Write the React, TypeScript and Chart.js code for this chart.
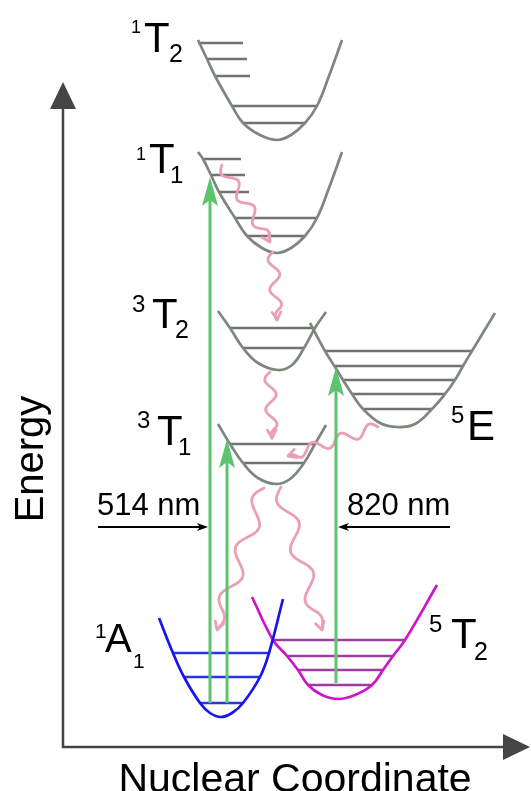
import React, { useEffect, useRef } from "react";
import { Chart, registerables } from "chart.js";
Chart.register(...registerables);

// Coordinates: q = nuclear coordinate, E = energy (origin at the corner of the axes)

// 1T2 state
const T2s_q = [135, 144, 152, 169, 180, 197, 214, 228, 242, 254, 266, 279];
const T2s_E = [707, 688, 671, 641, 624, 612, 607, 612, 624, 641, 671, 707];
const T2s_levE = [704, 688, 671, 641, 624];
const T2s_levL = [135, 144, 152, 169, 180];
const T2s_levR = [180, 184, 187, 254, 242];

// 1T1 state
const T1s_q = [135, 140, 148, 156, 172, 184, 199, 214, 228, 242, 254, 266, 279];
const T1s_E = [595, 588, 572, 555, 529, 511, 499, 494, 499, 511, 529, 559, 595];
const T1s_levE = [588, 572, 555, 529, 511];
const T1s_levL = [140, 148, 156, 172, 184];
const T1s_levR = [178, 182, 186, 254, 242];

// 3T2 state
const T2t_q = [155, 167, 180, 195, 215, 229, 241, 252, 263];
const T2t_E = [436, 419, 399, 384, 377, 382, 399, 419, 435];
const T2t_levE = [419, 399];
const T2t_levL = [167, 180];
const T2t_levR = [252, 241];

// 3T1 state
const T1t_q = [155, 167, 180, 195, 213, 227, 241, 252, 263];
const T1t_E = [323, 303, 284, 269, 263, 268, 284, 303, 322];
const T1t_levE = [303, 284];
const T1t_levL = [167, 180];
const T1t_levR = [252, 241];

// 5E state
const E5_q = [247, 262, 272, 280, 289, 300, 317, 334, 352, 369, 382, 392, 400, 409, 432];
const E5_E = [424, 396, 380, 367, 353, 338, 324, 320, 323, 338, 353, 367, 381, 396, 434];
const E5_levE = [396, 381, 367, 353, 338];
const E5_levL = [262, 272, 280, 289, 300];
const E5_levR = [409, 400, 392, 382, 369];

// 1A1 ground state
const A1_q = [96, 110, 121, 137, 147, 158, 169, 180, 197, 206, 220];
const A1_E = [129, 94, 70, 44, 34, 30, 34, 44, 70, 94, 148];
const A1_levE = [94, 70, 44];
const A1_levL = [110, 121, 137];
const A1_levR = [206, 197, 180];

// 5T2 state
const T5_q = [189, 210, 224, 235, 245, 259, 275, 292, 309, 320, 330, 342, 374];
const T5_E = [150, 107, 91, 77, 62, 52, 48, 52, 62, 77, 91, 107, 162];
const T5_levE = [107, 91, 77, 62];
const T5_levL = [210, 224, 235, 245];
const T5_levR = [342, 330, 320, 309];

// Absorption (green) arrows: position, start energy, end energy
const absQ = [147, 164, 273];
const absFrom = [44, 44, 64];
const absTo = [570, 308, 380];

// Excitation wavelength markers
const laserLabels = ["514 nm", "820 nm"];
const laserFromQ = [35, 387];
const laserToQ = [145, 275];
const laserE = [220, 220];

// Non-radiative relaxation (wavy) paths, as q/E waypoint lists
const relaxQ = [
  [159, 207],
  [210, 214],
  [207, 209],
  [315, 225],
  [201, 175, 154],
  [218, 234, 259],
];
const relaxE = [
  [582, 505],
  [495, 427],
  [375, 309],
  [320, 291],
  [259, 182, 117],
  [260, 202, 117],
];

// Axis extents
const axisQmax = 467;
const axisEmax = 665;

const FONT = '"Liberation Sans", Arial, Helvetica, sans-serif';
const GRAY = "#7d877d";
const GRAY_LEV = "#727272";
const BLUE = "#1515ee";
const BLUE_LEV = "#2a36e6";
const MAG = "#cc14cc";
const MAG_LEV = "#9c3c9c";
const GREEN = "#5cc46c";
const PINK = "#eb9fb4";
const AXIS = "#454545";

const states = [
  { q: T2s_q, E: T2s_E, levE: T2s_levE, levL: T2s_levL, levR: T2s_levR, c: GRAY, lc: GRAY_LEV },
  { q: T1s_q, E: T1s_E, levE: T1s_levE, levL: T1s_levL, levR: T1s_levR, c: GRAY, lc: GRAY_LEV },
  { q: T2t_q, E: T2t_E, levE: T2t_levE, levL: T2t_levL, levR: T2t_levR, c: GRAY, lc: GRAY_LEV },
  { q: T1t_q, E: T1t_E, levE: T1t_levE, levL: T1t_levL, levR: T1t_levR, c: GRAY, lc: GRAY_LEV },
  { q: E5_q, E: E5_E, levE: E5_levE, levL: E5_levL, levR: E5_levR, c: GRAY, lc: GRAY_LEV },
  { q: A1_q, E: A1_E, levE: A1_levE, levL: A1_levL, levR: A1_levR, c: BLUE, lc: BLUE_LEV },
  { q: T5_q, E: T5_E, levE: T5_levE, levL: T5_levL, levR: T5_levR, c: MAG, lc: MAG_LEV },
];

// Label layout: [text, q, E(baseline), font size]
type Part = [string, number, number, number];
const labelParts: Part[][] = [
  [["1", 68, 714, 18], ["T", 81, 695, 42], ["2", 106, 685, 25]],
  [["1", 73, 587, 18], ["T", 86, 574, 42], ["1", 107, 564, 24]],
  [["3", 69, 435, 24], ["T", 89, 419, 42], ["2", 112, 409, 25]],
  [["3", 74, 319, 24], ["T", 94, 302, 42], ["1", 115, 292, 24]],
  [["5", 388, 324, 24], ["E", 404, 307, 42]],
  [["1", 32, 109, 21], ["A", 42, 95, 40], ["1", 70, 79, 21]],
  [["5", 366, 115, 24], ["T", 388, 99, 42], ["2", 411, 87, 25]],
];

function arrowHead(ctx: CanvasRenderingContext2D, x: number, y: number, ang: number, len: number, hw: number, notch: number, color: string) {
  const ca = Math.cos(ang), sa = Math.sin(ang);
  const pt = (a: number, b: number) => [x - a * ca - b * -sa, y - a * sa - b * ca];
  ctx.save();
  ctx.fillStyle = color;
  ctx.beginPath();
  ctx.moveTo(x, y);
  let p = pt(len, hw);
  ctx.lineTo(p[0], p[1]);
  p = pt(len - notch, 0);
  ctx.lineTo(p[0], p[1]);
  p = pt(len, -hw);
  ctx.lineTo(p[0], p[1]);
  ctx.closePath();
  ctx.fill();
  ctx.restore();
}

function wavy(ctx: CanvasRenderingContext2D, pts: number[][], amp: number, wl: number) {
  const lens: number[] = [];
  let total = 0;
  for (let i = 1; i < pts.length; i++) {
    const l = Math.hypot(pts[i][0] - pts[i - 1][0], pts[i][1] - pts[i - 1][1]);
    lens.push(l);
    total += l;
  }
  const at = (s: number) => {
    let i = 0;
    while (i < lens.length - 1 && s > lens[i]) {
      s -= lens[i];
      i++;
    }
    const a = pts[i], b = pts[i + 1];
    const tx = (b[0] - a[0]) / lens[i], ty = (b[1] - a[1]) / lens[i];
    return { x: a[0] + tx * s, y: a[1] + ty * s, tx, ty };
  };
  ctx.save();
  ctx.strokeStyle = PINK;
  ctx.lineWidth = 2.8;
  ctx.lineJoin = "round";
  ctx.lineCap = "round";
  ctx.beginPath();
  for (let s = 0; s <= total; s += 1) {
    const p = at(s);
    const taper = Math.min(1, (total - s) / (wl * 0.4));
    const off = amp * Math.sin((2 * Math.PI * s) / wl) * taper;
    const x = p.x - p.ty * off, y = p.y + p.tx * off;
    if (s === 0) ctx.moveTo(x, y);
    else ctx.lineTo(x, y);
  }
  ctx.stroke();
  const e = at(total);
  const ang = Math.atan2(e.ty, e.tx);
  const L = 9;
  ctx.beginPath();
  ctx.moveTo(e.x - L * Math.cos(ang - 0.5), e.y - L * Math.sin(ang - 0.5));
  ctx.lineTo(e.x, e.y);
  ctx.lineTo(e.x - L * Math.cos(ang + 0.5), e.y - L * Math.sin(ang + 0.5));
  ctx.stroke();
  ctx.restore();
}

const decorPlugin = {
  id: "decor",
  afterDatasetsDraw(chart: any) {
    const ctx: CanvasRenderingContext2D = chart.ctx;
    const X = (v: number) => chart.scales.x.getPixelForValue(v);
    const Y = (v: number) => chart.scales.y.getPixelForValue(v);

    // axes
    ctx.save();
    ctx.strokeStyle = AXIS;
    ctx.lineWidth = 2.5;
    ctx.beginPath();
    ctx.moveTo(X(0), Y(axisEmax) + 24);
    ctx.lineTo(X(0), Y(0));
    ctx.lineTo(X(axisQmax) - 24, Y(0));
    ctx.stroke();
    ctx.restore();
    arrowHead(ctx, X(0), Y(axisEmax), -Math.PI / 2, 27, 13, 0, AXIS);
    arrowHead(ctx, X(axisQmax), Y(0), 0, 27, 13, 0, AXIS);

    // relaxation wavy arrows
    relaxQ.forEach((qs, i) => {
      const pts = qs.map((q, j) => [X(q), Y(relaxE[i][j])]);
      const big = qs.length > 2;
      wavy(ctx, pts, big ? 8 : 5.5, big ? 52 : 30);
    });

    // absorption arrows
    absQ.forEach((q, i) => {
      const x = X(q), y0 = Y(absFrom[i]), y1 = Y(absTo[i]);
      ctx.save();
      ctx.strokeStyle = GREEN;
      ctx.lineWidth = 3;
      ctx.beginPath();
      ctx.moveTo(x, y0);
      ctx.lineTo(x, y1 + 20);
      ctx.stroke();
      ctx.restore();
      arrowHead(ctx, x, y1, -Math.PI / 2, 29, 8, 6, GREEN);
    });

    // laser markers
    ctx.save();
    ctx.font = `31px ${FONT}`;
    ctx.fillStyle = "#000";
    ctx.textBaseline = "alphabetic";
    ctx.textAlign = "left";
    laserLabels.forEach((t, i) => {
      const y = Y(laserE[i]);
      const xa = X(laserFromQ[i]), xb = X(laserToQ[i]);
      const dir = xb > xa ? 1 : -1;
      ctx.strokeStyle = "#000";
      ctx.lineWidth = 1.8;
      ctx.beginPath();
      ctx.moveTo(xa, y);
      ctx.lineTo(xb - dir * 6, y);
      ctx.stroke();
      arrowHead(ctx, xb, y, dir > 0 ? 0 : Math.PI, 11, 4, 3, "#000");
      ctx.fillText(t, dir > 0 ? xa - 1 : xb + 9, y - 12);
    });
    ctx.restore();

    // state labels
    ctx.save();
    ctx.fillStyle = "#000";
    ctx.textAlign = "left";
    ctx.textBaseline = "alphabetic";
    labelParts.forEach((parts) =>
      parts.forEach(([t, q, e, s]) => {
        ctx.font = `${s}px ${FONT}`;
        ctx.fillText(t, X(q), Y(e));
      })
    );

    // axis titles
    ctx.font = `41px ${FONT}`;
    ctx.textAlign = "center";
    ctx.fillText("Nuclear Coordinate", X(232), Y(-45));
    ctx.translate(X(-20), Y(288));
    ctx.rotate(-Math.PI / 2);
    ctx.font = `40px ${FONT}`;
    ctx.fillText("Energy", 0, 0);
    ctx.restore();
  },
};

export default function App() {
  const ref = useRef<HTMLCanvasElement | null>(null);
  useEffect(() => {
    if (!ref.current) return;
    const datasets: any[] = [];
    states.forEach((st) => {
      const lev: any[] = [];
      st.levE.forEach((e, i) => {
        lev.push({ x: st.levL[i], y: e }, { x: st.levR[i], y: e }, { x: st.levR[i], y: null });
      });
      datasets.push({
        data: lev,
        showLine: true,
        spanGaps: false,
        borderColor: st.lc,
        borderWidth: 2.7,
        pointRadius: 0,
        tension: 0,
        order: 2,
      });
      datasets.push({
        data: st.q.map((q, i) => ({ x: q, y: st.E[i] })),
        showLine: true,
        borderColor: st.c,
        borderWidth: 2.7,
        pointRadius: 0,
        tension: 0.4,
        order: 1,
      });
    });
    const chart = new Chart(ref.current, {
      type: "scatter",
      data: { datasets },
      options: {
        responsive: false,
        animation: false,
        events: [],
        devicePixelRatio: 1,
        layout: { padding: 0 },
        plugins: { legend: { display: false }, tooltip: { enabled: false }, title: { display: false } },
        scales: {
          x: { type: "linear", min: -63, max: 468, display: false },
          y: { type: "linear", min: -44, max: 747, display: false },
        },
      },
      plugins: [decorPlugin],
    });
    return () => chart.destroy();
  }, []);
  return (
    <div style={{ position: "absolute", left: 0, top: 0, width: 531, height: 791, background: "#fff" }}>
      <canvas ref={ref} width={531} height={791} style={{ display: "block" }} />
    </div>
  );
}
